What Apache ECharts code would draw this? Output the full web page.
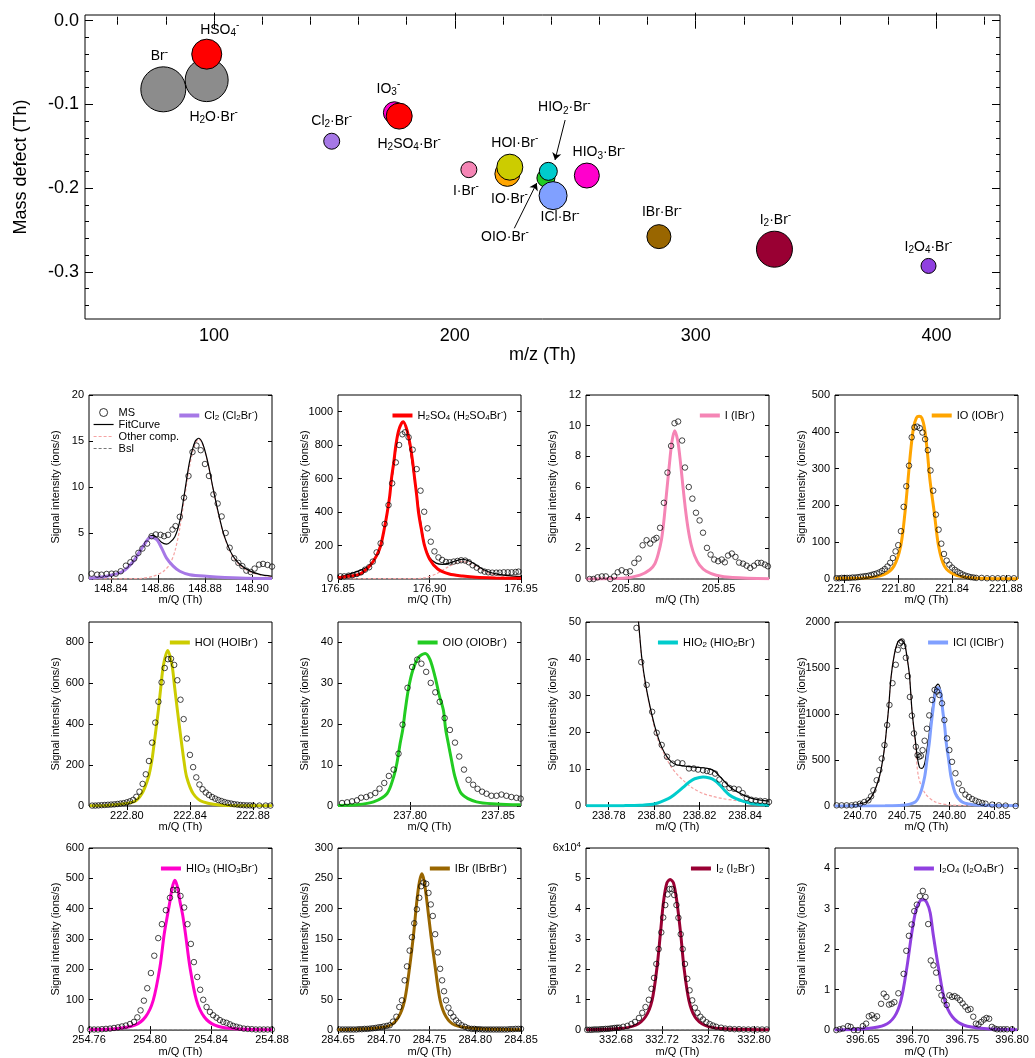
<!DOCTYPE html>
<html>
<head>
<meta charset="utf-8">
<script src="https://cdn.jsdelivr.net/npm/echarts@6/dist/echarts.min.js"></script>
<style>
html, body { margin: 0; padding: 0; background: #fff; }
#chart { width: 1035px; height: 1058px; }
</style>
</head>
<body>
<div id="chart"></div>
<script>
// ---------- top panel: mass defect plot ----------
var ionLabels = ['Br{u|-}', 'H{s|2}O\u00b7Br{u|-}', 'HSO{s|4}{u|-}', 'IO{s|3}{u|-}', 'H{s|2}SO{s|4}\u00b7Br{u|-}',
    'Cl{s|2}\u00b7Br{u|-}', 'I\u00b7Br{u|-}', 'IO\u00b7Br{u|-}', 'HOI\u00b7Br{u|-}', 'OIO\u00b7Br{u|-}',
    'ICl\u00b7Br{u|-}', 'HIO{s|2}\u00b7Br{u|-}', 'HIO{s|3}\u00b7Br{u|-}', 'IBr\u00b7Br{u|-}', 'I{s|2}\u00b7Br{u|-}',
    'I{s|2}O{s|4}\u00b7Br{u|-}'];
var mzValues = [78.918, 96.929, 96.960, 174.890, 176.886, 148.856, 205.822, 221.817, 222.825, 237.812,
    240.791, 238.820, 254.815, 284.742, 332.727, 396.707];
var massDefect = [-0.082, -0.071, -0.040, -0.110, -0.114, -0.144, -0.178, -0.183, -0.175, -0.188,
    -0.209, -0.180, -0.185, -0.258, -0.273, -0.293];
var bubbleSize = [45, 43, 30, 22, 26, 16, 16, 25, 26, 18, 28, 18, 25, 24, 36, 15];
var mzMajor = [100, 200, 300, 400];
var mzMinor = [60, 80, 120, 140, 160, 180, 220, 240, 260, 280, 320, 340, 360, 380, 420];
var mdMajor = [0, -0.1, -0.2, -0.3];
var mdMinor = [-0.34, -0.32, -0.28, -0.26, -0.24, -0.22, -0.18, -0.16, -0.14, -0.12, -0.08, -0.06, -0.04, -0.02];
// arrows from the OIO and HIO2 labels (data units)
var arrowPairs = [[[224.7, -0.248], [234.0, -0.194]], [[245.8, -0.1187], [241.6, -0.1664]]];

// styles for the bubbles
var ionColors = ['#8c8c8c', '#8c8c8c', '#ff0000', '#ff00cc', '#ff0000', '#a678e6', '#f585b5', '#ffa500',
    '#cccc00', '#22cc22', '#80a0ff', '#00cccc', '#ff00cc', '#996600', '#990033', '#9040e0'];
var labelOffsets = [[-4, -33], [7, 37], [13, -24], [-6, -24], [10, 28], [0, -20], [-3, 21], [2, 25], [5, -24],
    [-41, 59], [7, 22], [16, -64], [12, -23], [3, -24], [1, -29], [0, -19]];

// ---------- small panels ----------
// Cl2
var cl2MS = [[148.8318,0.58],[148.8342,0.47],[148.8360,0.47],[148.8382,0.55],[148.8403,0.58],[148.8421,0.58],[148.8442,0.84],[148.8464,1.45],[148.8483,1.82],[148.8499,2.22],[148.8517,2.84],[148.8534,3.31],[148.8554,3.85],[148.8573,4.65],[148.8591,4.84],[148.8611,4.80],[148.8626,4.65],[148.8643,4.80],[148.8662,5.38],[148.8675,5.75],[148.8693,6.76],[148.8711,8.84],[148.8730,11.2],[148.8747,13.8],[148.8764,14.5],[148.8782,14.0],[148.8800,12.5],[148.8817,11.2],[148.8836,9.2],[148.8854,8.2],[148.8871,6.8],[148.8888,5.0],[148.8905,3.4],[148.8924,2.25],[148.8942,1.75],[148.8959,1.4],[148.8976,0.91],[148.8994,0.76],[148.9011,1.13],[148.9030,1.56],[148.9047,1.64],[148.9066,1.53],[148.9085,1.35]];
var cl2Comp = [[148.8307,0.08],[148.8382,0.3],[148.8452,0.84],[148.8495,1.9],[148.8523,3.0],[148.8551,4.1],[148.8568,4.55],[148.8594,4.3],[148.8615,3.4],[148.8636,2.3],[148.8665,1.4],[148.8693,0.84],[148.8735,0.47],[148.8806,0.3],[148.8948,0.1],[148.9085,0.05]];
var cl2Other = [[148.8307,0],[148.8523,0.05],[148.8580,0.3],[148.8622,0.8],[148.8650,1.6],[148.8672,3.0],[148.8693,5.5],[148.8714,9.0],[148.8735,12.3],[148.8757,14.6],[148.8774,15.2],[148.8792,14.5],[148.8813,12.5],[148.8834,9.8],[148.8856,7.2],[148.8877,5.0],[148.8898,3.5],[148.8919,2.4],[148.8948,1.5],[148.8990,0.8],[148.9033,0.45],[148.9085,0.25]];
var cl2Fit = [[148.8307,0.08],[148.8382,0.3],[148.8452,0.86],[148.8495,1.93],[148.8523,3.05],[148.8551,4.2],[148.8568,4.7],[148.8580,4.75],[148.8594,4.55],[148.8615,4.0],[148.8636,3.8],[148.8650,3.95],[148.8672,4.6],[148.8693,6.3],[148.8714,9.5],[148.8735,12.8],[148.8757,14.9],[148.8774,15.3],[148.8792,14.6],[148.8813,12.6],[148.8834,9.9],[148.8856,7.3],[148.8877,5.1],[148.8898,3.6],[148.8919,2.5],[148.8948,1.6],[148.8990,0.88],[148.9033,0.5],[148.9085,0.3]];
var cl2XTicks = [148.84, 148.86, 148.88, 148.90];
var cl2YTicks = [0, 5, 10, 15, 20];

// H2SO4
var h2so4MS = [[176.8513,16],[176.8534,16],[176.8558,20],[176.8581,24],[176.8603,30],[176.8626,40],[176.8648,56],[176.8670,70],[176.8690,104],[176.8711,159],[176.8733,213],[176.8755,329],[176.8776,442],[176.8796,572],[176.8816,697],[176.8834,801],[176.8852,865],[176.8866,877],[176.8886,847],[176.8908,773],[176.8930,657],[176.8951,528],[176.8971,402],[176.8989,303],[176.9007,223],[176.9027,165],[176.9049,129],[176.9069,114],[176.9090,102],[176.9110,100],[176.9132,104],[176.9153,108],[176.9173,112],[176.9195,110],[176.9215,100],[176.9236,82],[176.9258,68],[176.9280,52],[176.9301,44],[176.9321,40],[176.9343,38],[176.9365,38],[176.9384,38],[176.9406,40],[176.9428,40],[176.9449,40],[176.9471,42],[176.9487,44]];
var h2so4Comp = [[176.85,8],[176.8567,18],[176.8621,30],[176.8675,80],[176.8711,140],[176.8733,199],[176.8753,300],[176.8769,398],[176.8783,500],[176.8792,598],[176.8805,700],[176.8816,797],[176.8832,890],[176.8856,940],[176.8877,890],[176.8895,797],[176.8908,700],[176.8919,598],[176.8930,500],[176.8940,398],[176.8955,300],[176.8973,199],[176.9000,120],[176.9045,60],[176.9108,30],[176.9181,18],[176.9253,10],[176.9361,6],[176.95,4]];
var h2so4Other = [[176.85,2],[176.8874,2],[176.8964,5],[176.9036,30],[176.9090,65],[176.9144,95],[176.9181,105],[176.9217,95],[176.9253,75],[176.9289,52],[176.9325,35],[176.9379,20],[176.9433,12],[176.95,8]];
var h2so4Fit = [[176.85,10],[176.8675,82],[176.8733,201],[176.8783,502],[176.8832,892],[176.8856,942],[176.8877,892],[176.8930,503],[176.8973,205],[176.9000,130],[176.9036,95],[176.9072,88],[176.9108,95],[176.9144,108],[176.9181,118],[176.9217,108],[176.9253,85],[176.9289,60],[176.9325,42],[176.9379,28],[176.9433,20],[176.95,14]];
var h2so4XTicks = [176.85, 176.90, 176.95];
var h2so4YTicks = [0, 200, 400, 600, 800, 1000];

// I
var iMS = [[205.7785,0],[205.7807,0],[205.7829,0.11],[205.7853,0.17],[205.7875,0.17],[205.7899,0],[205.7921,0.17],[205.7941,0.44],[205.7963,0.57],[205.7987,0.44],[205.8009,0.5],[205.8033,1.05],[205.8057,1.33],[205.8079,2.2],[205.8101,2.53],[205.8121,2.31],[205.8142,2.57],[205.8156,2.68],[205.8176,3.34],[205.8197,4.97],[205.8217,6.94],[205.8237,8.68],[205.8256,10.16],[205.8276,10.27],[205.8298,9.03],[205.8314,7.27],[205.8335,6.0],[205.8355,5.24],[205.8375,4.32],[205.8395,3.82],[205.8414,3.02],[205.8436,2.03],[205.8456,1.59],[205.8476,1.27],[205.8498,1.16],[205.8518,1.27],[205.8535,1.09],[205.8553,1.53],[205.8574,1.66],[205.8594,1.44],[205.8614,1.07],[205.8636,1.0],[205.8656,0.87],[205.8676,0.72],[205.8697,0.87],[205.8717,1.05],[205.8737,1.05],[205.8757,0.94],[205.8774,0.83]];
var iComp = [[205.7765,0],[205.7972,0.05],[205.8064,0.25],[205.8119,0.6],[205.8147,1.0],[205.8165,1.6],[205.8184,2.6],[205.8197,3.8],[205.8211,5.5],[205.8226,7.3],[205.8241,8.9],[205.8257,9.67],[205.8274,9.0],[205.8289,7.6],[205.8303,6.0],[205.8316,4.6],[205.8331,3.3],[205.8349,2.2],[205.8368,1.5],[205.8395,0.9],[205.8432,0.5],[205.8487,0.25],[205.8579,0.1],[205.8781,0.02]];
var iXTicks = [205.80, 205.85];
var iYTicks = [0, 2, 4, 6, 8, 10, 12];

// IO
var ioMS = [[221.754,2],[221.756,2],[221.758,3],[221.760,3],[221.762,3],[221.764,3],[221.766,4],[221.768,4],[221.770,5],[221.772,6],[221.774,7],[221.776,8],[221.778,9],[221.780,11],[221.782,13],[221.784,15],[221.786,18],[221.788,22],[221.790,27],[221.792,34],[221.794,44],[221.796,57],[221.798,75],[221.800,92],[221.802,130],[221.804,196],[221.806,252],[221.808,308],[221.810,385],[221.812,412],[221.814,414],[221.816,410],[221.818,398],[221.820,380],[221.822,350],[221.824,295],[221.826,240],[221.828,175],[221.830,134],[221.832,96],[221.834,68],[221.836,50],[221.838,39],[221.840,31],[221.842,25],[221.844,20],[221.846,16],[221.848,12],[221.850,9],[221.852,7],[221.854,5],[221.856,4],[221.858,3],[221.862,3],[221.866,2],[221.870,2],[221.874,2],[221.878,2],[221.882,2],[221.886,2]];
var ioComp = [[221.753,2],[221.7755,3],[221.7893,12],[221.7968,35],[221.8018,89],[221.8050,180],[221.8073,271],[221.8093,350],[221.8113,410],[221.8135,438],[221.8155,442],[221.8175,438],[221.8195,410],[221.8215,350],[221.8235,271],[221.8268,180],[221.8300,89],[221.8343,35],[221.8418,12],[221.8555,3],[221.8890,1]];
var ioXTicks = [221.76, 221.80, 221.84, 221.88];
var ioYTicks = [0, 100, 200, 300, 400, 500];

// HOI
var hoiMS = [[222.778,2],[222.780,2],[222.782,3],[222.784,4],[222.786,5],[222.788,6],[222.790,7],[222.792,8],[222.794,10],[222.796,12],[222.798,14],[222.800,18],[222.802,23],[222.804,30],[222.806,45],[222.808,70],[222.810,108],[222.812,155],[222.814,220],[222.816,310],[222.818,408],[222.820,510],[222.822,605],[222.824,675],[222.826,718],[222.828,720],[222.830,690],[222.832,615],[222.834,520],[222.836,425],[222.838,330],[222.840,250],[222.842,190],[222.844,140],[222.846,105],[222.848,82],[222.850,66],[222.852,54],[222.854,44],[222.856,36],[222.858,29],[222.860,24],[222.862,19],[222.864,15],[222.866,12],[222.868,9],[222.870,7],[222.872,5],[222.874,4],[222.876,3],[222.878,3],[222.880,2],[222.884,2],[222.888,2],[222.891,2]];
var hoiComp = [[222.7764,1],[222.7874,3],[222.8042,20],[222.8095,60],[222.8137,142],[222.8158,220],[222.8173,306],[222.8187,390],[222.8200,470],[222.8215,580],[222.8232,690],[222.8259,761],[222.8286,690],[222.8303,580],[222.8320,470],[222.8333,390],[222.8347,306],[222.8362,220],[222.8379,142],[222.8421,60],[222.8484,20],[222.8632,3],[222.8920,1]];
var hoiXTicks = [222.80, 222.84, 222.88];
var hoiYTicks = [0, 200, 400, 600, 800];

// OIO
var oioMS = [[237.7613,0.73],[237.7642,0.9],[237.7670,1.14],[237.7698,1.39],[237.7721,2.04],[237.7751,2.2],[237.7774,2.61],[237.7802,3.18],[237.7826,4.24],[237.7853,5.63],[237.7879,7.35],[237.7906,8.9],[237.7934,12.8],[237.7957,19.9],[237.7985,28.9],[237.8011,34.0],[237.8040,35.8],[237.8064,34.8],[237.8091,32.8],[237.8117,30.1],[237.8143,27.8],[237.8168,25.5],[237.8196,21.5],[237.8226,18.6],[237.8255,15.5],[237.8279,12.1],[237.8306,8.9],[237.8332,6.4],[237.8358,5.2],[237.8383,4.2],[237.8409,3.5],[237.8434,3.0],[237.8462,2.5],[237.8491,2.5],[237.8519,2.8],[237.8547,2.5],[237.8575,2.2],[237.8604,2.0],[237.8628,1.8]];
var oioComp = [[237.759,0.15],[237.7698,0.3],[237.7792,1.0],[237.7868,3.0],[237.7906,7.1],[237.7925,10.5],[237.7943,15.3],[237.7958,18.7],[237.7972,23.4],[237.7991,28.8],[237.8015,33.2],[237.8047,36.3],[237.8085,37.3],[237.8113,35.8],[237.8142,31.5],[237.8166,27.0],[237.8189,23.4],[237.8202,18.7],[237.8217,15.3],[237.8236,11.0],[237.8255,7.1],[237.8292,3.0],[237.8377,1.0],[237.8491,0.5],[237.8628,0.3]];
var oioXTicks = [237.80, 237.85];
var oioYTicks = [0, 10, 20, 30, 40];

// HIO2
var hio2MS = [[238.7922,48.4],[238.7943,39.1],[238.7967,32.9],[238.7991,25.6],[238.8011,19.9],[238.8033,16.6],[238.8056,13.4],[238.8081,11.5],[238.8103,11.8],[238.8124,11.6],[238.8153,10.2],[238.8174,10.2],[238.8193,9.9],[238.8215,9.7],[238.8232,9.5],[238.8247,9.3],[238.8268,8.8],[238.8287,7.2],[238.8311,5.9],[238.8331,4.9],[238.8351,4.7],[238.8372,4.5],[238.8389,3.5],[238.8407,2.2],[238.8427,1.7],[238.8447,1.5],[238.8466,1.4],[238.8487,1.3],[238.8505,1.1]];
var hio2Comp = [[238.7701,0.05],[238.7865,0.1],[238.7938,0.2],[238.8004,0.6],[238.8062,2.0],[238.8091,3.2],[238.8113,4.3],[238.8135,5.5],[238.8156,6.6],[238.8178,7.4],[238.8215,7.9],[238.8244,7.6],[238.8265,7.0],[238.8287,5.8],[238.8309,4.3],[238.8331,3.0],[238.8360,2.0],[238.8396,1.2],[238.8433,0.6],[238.8505,0.2]];
var hio2Other = [[238.7916,60],[238.7931,50],[238.7945,40],[238.7964,32],[238.7989,24.5],[238.8011,19],[238.8033,15.5],[238.8055,12.8],[238.8076,10.5],[238.8098,8.8],[238.8127,7.0],[238.8171,4.8],[238.8215,3.4],[238.8258,2.6],[238.8302,2.0],[238.8345,1.6],[238.8404,1.1],[238.8505,0.7]];
var hio2Fit = [[238.7916,58],[238.7931,50],[238.7945,40.5],[238.7964,32.5],[238.7989,25],[238.8011,19.8],[238.8033,16],[238.8055,13.5],[238.8076,12],[238.8098,11.2],[238.8127,10.9],[238.8156,10.7],[238.8185,10.5],[238.8215,10.4],[238.8244,10.1],[238.8265,9.5],[238.8287,8.1],[238.8309,6.7],[238.8331,5.3],[238.8360,4.0],[238.8396,2.9],[238.8433,2.0],[238.8469,1.6],[238.8505,1.3]];
var hio2XTicks = [238.78, 238.80, 238.82, 238.84];
var hio2YTicks = [0, 10, 20, 30, 40, 50];

// ICl
var iclMS = [[240.6738,7],[240.6794,7],[240.6850,7],[240.6906,7],[240.6951,15],[240.7000,25],[240.7049,44],[240.7094,62],[240.7124,105],[240.7150,171],[240.7187,280],[240.7217,390],[240.7244,516],[240.7274,662],[240.7304,880],[240.7330,1098],[240.7364,1335],[240.7401,1535],[240.7424,1698],[240.7450,1770],[240.7469,1789],[240.7487,1738],[240.7514,1611],[240.7536,1411],[240.7559,1185],[240.7581,982],[240.7604,789],[240.7626,644],[240.7645,553],[240.7664,535],[240.7682,545],[240.7701,607],[240.7724,709],[240.7750,840],[240.7776,985],[240.7806,1153],[240.7836,1262],[240.7862,1244],[240.7889,1207],[240.7919,1116],[240.7945,934],[240.7975,735],[240.8001,608],[240.8031,480],[240.8069,356],[240.8106,244],[240.8144,172],[240.8181,124],[240.8219,98],[240.8256,76],[240.8294,58],[240.8331,44],[240.8369,33],[240.8406,25],[240.8481,15],[240.8556,7],[240.8631,4],[240.8744,0]];
var iclComp = [[240.6719,0],[240.7281,2],[240.7469,7],[240.7619,44],[240.7675,135],[240.7724,316],[240.7750,498],[240.7776,680],[240.7795,862],[240.7817,1044],[240.7844,1230],[240.7874,1287],[240.7904,1230],[240.7926,1044],[240.7949,862],[240.7967,680],[240.7994,498],[240.8020,316],[240.8069,135],[240.8144,44],[240.8256,15],[240.8406,7],[240.8770,2]];
var iclOther = [[240.6719,2],[240.6906,8],[240.7075,44],[240.7150,135],[240.7217,316],[240.7255,500],[240.7281,680],[240.7300,860],[240.7319,1044],[240.7349,1407],[240.7386,1650],[240.7424,1780],[240.7461,1807],[240.7499,1760],[240.7529,1600],[240.7555,1407],[240.7581,1044],[240.7600,860],[240.7619,680],[240.7656,316],[240.7731,135],[240.7844,44],[240.8031,10],[240.8406,3],[240.8770,1]];
var iclFit = [[240.6719,2],[240.6906,10],[240.7075,46],[240.7150,137],[240.7217,318],[240.7255,502],[240.7281,683],[240.7300,863],[240.7319,1046],[240.7349,1410],[240.7386,1653],[240.7424,1783],[240.7461,1810],[240.7499,1763],[240.7529,1604],[240.7555,1412],[240.7581,1054],[240.7600,875],[240.7619,724],[240.7641,540],[240.7667,420],[240.7694,410],[240.7724,460],[240.7750,615],[240.7776,790],[240.7795,960],[240.7817,1110],[240.7844,1290],[240.7874,1325],[240.7904,1255],[240.7926,1065],[240.7949,878],[240.7967,693],[240.7994,510],[240.8020,325],[240.8069,143],[240.8144,49],[240.8256,18],[240.8406,10],[240.8770,3]];
var iclXTicks = [240.70, 240.75, 240.80, 240.85];
var iclYTicks = [0, 500, 1000, 1500, 2000];

// HIO3
var hio3MS = [[254.7607,2],[254.7633,2],[254.7659,2],[254.7685,3],[254.7711,4],[254.7738,5],[254.7764,7],[254.7790,9],[254.7816,12],[254.7842,15],[254.7869,20],[254.7895,27],[254.7917,42],[254.7938,65],[254.7960,97],[254.7982,138],[254.8006,188],[254.8028,245],[254.8054,303],[254.8078,349],[254.8104,395],[254.8131,436],[254.8152,462],[254.8176,462],[254.8200,442],[254.8224,404],[254.8246,349],[254.8268,284],[254.8288,224],[254.8310,175],[254.8329,133],[254.8349,100],[254.8371,76],[254.8393,60],[254.8414,49],[254.8436,41],[254.8458,33],[254.8480,27],[254.8502,24],[254.8524,19],[254.8545,14],[254.8567,11],[254.8589,8],[254.8615,5],[254.8641,4],[254.8668,3],[254.8694,2],[254.8720,2],[254.8746,2],[254.8772,2],[254.8799,2]];
var hio3Comp = [[254.76,1],[254.7792,5],[254.7901,16],[254.7971,44],[254.8021,98],[254.8065,207],[254.8093,316],[254.8115,380],[254.8131,425],[254.8146,470],[254.8163,494],[254.8181,470],[254.8196,425],[254.8214,380],[254.8233,316],[254.8262,207],[254.8305,98],[254.8355,44],[254.8425,16],[254.8534,5],[254.88,1]];
var hio3XTicks = [254.76, 254.80, 254.84, 254.88];
var hio3YTicks = [0, 100, 200, 300, 400, 500, 600];

// IBr
var ibrMS = [[284.652,1],[284.655,1],[284.658,1],[284.661,1],[284.664,1],[284.667,1],[284.670,1],[284.673,1.5],[284.676,1.5],[284.679,2],[284.682,2],[284.685,2.5],[284.688,3],[284.691,3.5],[284.694,4.5],[284.697,5],[284.700,6],[284.7035,7],[284.7065,8],[284.7101,14],[284.7138,22],[284.7170,38],[284.7199,49],[284.7228,82],[284.7254,105],[284.7283,131],[284.7308,153],[284.7333,176],[284.7362,199],[284.7388,218],[284.7409,237],[284.7435,243],[284.7464,241],[284.7489,226],[284.7514,207],[284.7536,188],[284.7562,158],[284.7591,128],[284.7616,101],[284.7638,82],[284.7659,64],[284.7681,49],[284.7707,37],[284.7732,28],[284.7761,22],[284.7790,16],[284.7819,12],[284.7851,8],[284.7888,5.5],[284.7924,3],[284.796,2],[284.799,2],[284.802,1.5],[284.805,1.5],[284.808,1],[284.811,1],[284.814,1],[284.817,1],[284.820,1],[284.823,1],[284.826,1],[284.829,1],[284.832,1],[284.835,1],[284.838,1.5],[284.841,1.5],[284.844,2],[284.847,2],[284.850,2]];
var ibrComp = [[284.6493,0.5],[284.6891,3],[284.7072,8],[284.7163,22],[284.7228,49],[284.7283,104],[284.7326,158],[284.7362,213],[284.7391,245],[284.7417,257.5],[284.7442,245],[284.7471,213],[284.7514,158],[284.7562,104],[284.7616,49],[284.7681,22],[284.7779,8],[284.7978,3],[284.8496,0.5]];
var ibrXTicks = [284.65, 284.70, 284.75, 284.80, 284.85];
var ibrYTicks = [0, 50, 100, 150, 200, 250, 300];

// I2
var i2MS = [[332.655,100],[332.657,100],[332.659,100],[332.661,200],[332.663,200],[332.665,200],[332.667,300],[332.669,300],[332.671,400],[332.673,400],[332.675,500],[332.677,600],[332.679,700],[332.681,800],[332.6829,800],[332.6863,1100],[332.6900,1400],[332.6934,2000],[332.6966,2700],[332.7000,4000],[332.7029,5700],[332.7057,7600],[332.7086,10000],[332.7109,13600],[332.7131,17200],[332.7151,21800],[332.7171,26700],[332.7194,32200],[332.7211,37100],[332.7229,41200],[332.7249,44700],[332.7266,46500],[332.7286,46500],[332.7306,44500],[332.7326,41200],[332.7343,37000],[332.7363,31600],[332.7380,26700],[332.7400,21800],[332.7420,16900],[332.7440,13100],[332.7463,9800],[332.7486,7400],[332.7509,5700],[332.7534,4400],[332.7557,3500],[332.7586,2600],[332.7614,2000],[332.7643,1500],[332.7671,1100],[332.7714,800],[332.775,500],[332.779,400],[332.783,300],[332.787,300],[332.791,200],[332.795,200],[332.799,200],[332.803,200],[332.807,200],[332.811,200]];
var i2Comp = [[332.6543,100],[332.6829,500],[332.6971,1600],[332.7057,4400],[332.7114,9800],[332.7157,20700],[332.7186,31600],[332.7214,42500],[332.7243,48500],[332.7271,49600],[332.7300,48500],[332.7329,42500],[332.7363,31600],[332.7391,20700],[332.7434,9800],[332.7486,4400],[332.7571,1600],[332.7714,500],[332.8129,100]];
var i2XTicks = [332.68, 332.72, 332.76, 332.80];
var i2YTicks = [0, 10000, 20000, 30000, 40000, 50000, 60000];

// I2O4
var i2o4MS = [[396.6233,0],[396.6267,0.02],[396.6300,0.04],[396.6350,0.1],[396.6377,0.08],[396.6410,0],[396.6450,0],[396.6500,0.1],[396.6533,0.16],[396.6560,0.34],[396.6590,0.37],[396.6617,0.29],[396.6643,0.34],[396.6683,0.65],[396.6710,0.9],[396.6737,0.82],[396.6763,0.63],[396.6790,0.65],[396.6817,0.69],[396.6857,0.91],[396.6910,1.39],[396.6937,1.96],[396.6963,2.33],[396.6990,2.61],[396.7017,2.94],[396.7043,3.1],[396.7073,3.31],[396.7103,3.44],[396.7130,3.29],[396.7157,2.62],[396.7183,1.72],[396.7210,1.6],[396.7237,1.42],[396.7263,1.04],[396.7290,0.86],[396.7317,0.73],[396.7343,0.62],[396.7370,0.86],[396.7397,0.82],[396.7423,0.84],[396.7450,0.8],[396.7477,0.74],[396.7503,0.66],[396.7530,0.58],[396.7557,0.5],[396.7583,0.52],[396.7610,0.33],[396.7637,0.16],[396.7663,0.14],[396.7690,0.2],[396.7717,0.26],[396.7743,0.3],[396.7770,0.28],[396.7797,0.08],[396.7823,0.04],[396.7850,0.02],[396.7883,0.02],[396.7917,0.02],[396.7950,0.02],[396.8000,0.02]];
var i2o4Comp = [[396.6217,0],[396.6550,0.04],[396.6717,0.12],[396.6817,0.33],[396.6883,0.73],[396.6943,1.55],[396.6990,2.37],[396.7033,2.95],[396.7077,3.2],[396.7110,3.22],[396.7143,3.15],[396.7177,2.9],[396.7207,2.37],[396.7260,1.55],[396.7323,0.73],[396.7400,0.33],[396.7517,0.12],[396.7717,0.04],[396.8050,0.01]];
var i2o4XTicks = [396.65, 396.70, 396.75, 396.80];
var i2o4YTicks = [0, 1, 2, 3, 4];

var baselineLevel = [0, 0, 0, 0, 0, 0, 0, 0, 0, 0, 0, 0];

var compNames = ['Cl2 (Cl2Br-)', 'H2SO4 (H2SO4Br-)', 'I (IBr-)', 'IO (IOBr-)', 'HOI (HOIBr-)', 'OIO (OIOBr-)',
    'HIO2 (HIO2Br-)', 'ICl (IClBr-)', 'HIO3 (HIO3Br-)', 'IBr (IBrBr-)', 'I2 (I2Br-)', 'I2O4 (I2O4Br-)'];
var compLabels = ['Cl{s|2} (Cl{s|2}Br{u|-})', 'H{s|2}SO{s|4} (H{s|2}SO{s|4}Br{u|-})', 'I (IBr{u|-})',
    'IO (IOBr{u|-})', 'HOI (HOIBr{u|-})', 'OIO (OIOBr{u|-})', 'HIO{s|2} (HIO{s|2}Br{u|-})', 'ICl (IClBr{u|-})',
    'HIO{s|3} (HIO{s|3}Br{u|-})', 'IBr (IBrBr{u|-})', 'I{s|2} (I{s|2}Br{u|-})', 'I{s|2}O{s|4} (I{s|2}O{s|4}Br{u|-})'];

// ---------- layout / style ----------
var FONT = "'Liberation Sans', Arial, Helvetica, sans-serif";
var panels = [
    { ms: cl2MS, comp: cl2Comp, other: cl2Other, fit: cl2Fit, xr: [148.8307, 148.9085], yr: [0, 20], xt: cl2XTicks, yt: cl2YTicks, color: '#a678e6' },
    { ms: h2so4MS, comp: h2so4Comp, other: h2so4Other, fit: h2so4Fit, xr: [176.85, 176.95], yr: [0, 1100], xt: h2so4XTicks, yt: h2so4YTicks, color: '#ff0000' },
    { ms: iMS, comp: iComp, xr: [205.7765, 205.878], yr: [0, 12], xt: iXTicks, yt: iYTicks, color: '#f585b5' },
    { ms: ioMS, comp: ioComp, xr: [221.753, 221.889], yr: [0, 500], xt: ioXTicks, yt: ioYTicks, color: '#ffa500' },
    { ms: hoiMS, comp: hoiComp, xr: [222.776, 222.892], yr: [0, 900], xt: hoiXTicks, yt: hoiYTicks, color: '#cccc00' },
    { ms: oioMS, comp: oioComp, xr: [237.759, 237.863], yr: [0, 45], xt: oioXTicks, yt: oioYTicks, color: '#22cc22' },
    { ms: hio2MS, comp: hio2Comp, other: hio2Other, fit: hio2Fit, xr: [238.770, 238.8505], yr: [0, 50], xt: hio2XTicks, yt: hio2YTicks, color: '#00cccc' },
    { ms: iclMS, comp: iclComp, other: iclOther, fit: iclFit, xr: [240.672, 240.877], yr: [0, 2000], xt: iclXTicks, yt: iclYTicks, color: '#80a0ff' },
    { ms: hio3MS, comp: hio3Comp, xr: [254.76, 254.88], yr: [0, 600], xt: hio3XTicks, yt: hio3YTicks, color: '#ff00cc' },
    { ms: ibrMS, comp: ibrComp, xr: [284.65, 284.85], yr: [0, 300], xt: ibrXTicks, yt: ibrYTicks, color: '#996600' },
    { ms: i2MS, comp: i2Comp, xr: [332.654, 332.813], yr: [0, 60000], xt: i2XTicks, yt: i2YTicks, color: '#990033', sci: true },
    { ms: i2o4MS, comp: i2o4Comp, xr: [396.622, 396.806], yr: [0, 4.5], xt: i2o4XTicks, yt: i2o4YTicks, color: '#9040e0' }
];
var cellLeft = [89, 338, 586, 835];
var cellTop = [395, 622, 848];
var cellW = 183, cellH = 184;
var NOSYM = { color: 'rgba(0,0,0,0)', borderColor: 'rgba(0,0,0,0)', borderWidth: 0 };

var richBig = {
    s: { fontSize: 10, fontFamily: FONT, padding: [7, 0, 0, 0] },
    u: { fontSize: 10, fontFamily: FONT, padding: [0, 0, 9, 0] }
};
var richSmall = {
    s: { fontSize: 8, fontFamily: FONT, padding: [5, 0, 0, 0] },
    u: { fontSize: 8, fontFamily: FONT, padding: [0, 0, 7, 0] }
};

var option = {
    animation: false,
    backgroundColor: '#fff',
    textStyle: { fontFamily: FONT, color: '#000' },
    tooltip: { show: false },
    grid: [], xAxis: [], yAxis: [], legend: [], series: []
};

function tickAxis(gi, pos, range, ticks, len, label) {
    return {
        gridIndex: gi, type: 'value', position: pos, min: range[0], max: range[1],
        axisLine: { show: false },
        splitLine: { show: false },
        axisTick: { show: true, inside: true, length: len, customValues: ticks, lineStyle: { color: '#000', width: 1 } },
        axisLabel: label ? Object.assign({ show: true, customValues: ticks, color: '#000', fontFamily: FONT }, label) : { show: false }
    };
}

// top grid
var topX = [46.4, 426.4], topY = [-0.3564, 0.0068];
option.grid.push({ left: 85, top: 15, width: 915, height: 304, show: true, borderColor: '#000', borderWidth: 1, backgroundColor: 'rgba(0,0,0,0)' });
var fmt1 = function (v) { return v.toFixed(1); };
var xMain = tickAxis(0, 'bottom', topX, mzMajor, 8, { fontSize: 18, margin: 8 });
xMain.name = 'm/z (Th)';
xMain.nameLocation = 'middle';
xMain.nameGap = 24;
xMain.nameTextStyle = { fontSize: 18, fontFamily: FONT, color: '#000' };
option.xAxis.push(xMain);
option.xAxis.push(tickAxis(0, 'bottom', topX, mzMinor, 4));
option.xAxis.push(tickAxis(0, 'top', topX, mzMajor, 8));
option.xAxis.push(tickAxis(0, 'top', topX, mzMinor, 4));
var yMain = tickAxis(0, 'left', topY, mdMajor, 8, { fontSize: 18, margin: 6, formatter: fmt1 });
yMain.name = 'Mass defect (Th)';
yMain.nameLocation = 'middle';
yMain.nameGap = 55;
yMain.nameMoveOverlap = false;
yMain.nameTextStyle = { fontSize: 18, fontFamily: FONT, color: '#000' };
option.yAxis.push(yMain);
option.yAxis.push(tickAxis(0, 'left', topY, mdMinor, 4));
option.yAxis.push(tickAxis(0, 'right', topY, mdMajor, 8));
option.yAxis.push(tickAxis(0, 'right', topY, mdMinor, 4));

var bubbleData = mzValues.map(function (m, i) {
    return {
        value: [m, massDefect[i], bubbleSize[i]],
        itemStyle: { color: ionColors[i] },
        label: { offset: labelOffsets[i] }
    };
});
option.series.push({
    type: 'scatter', xAxisIndex: 0, yAxisIndex: 0, name: 'ions', silent: true,
    symbolSize: function (v) { return v[2]; },
    itemStyle: { borderColor: '#000', borderWidth: 1, opacity: 1 },
    label: {
        show: true, position: 'inside', color: '#000', fontSize: 14, fontFamily: FONT,
        formatter: function (p) { return ionLabels[p.dataIndex]; },
        rich: richBig
    },
    data: bubbleData,
    markLine: {
        silent: true, symbol: ['none', 'arrow'], symbolSize: 7,
        lineStyle: { color: '#000', width: 1, type: 'solid' },
        label: { show: false },
        data: arrowPairs.map(function (a) { return [{ coord: a[0] }, { coord: a[1] }]; })
    }
});

// small panels
panels.forEach(function (p, k) {
    var col = k % 4, row = Math.floor(k / 4);
    var left = cellLeft[col], top = cellTop[row];
    var gi = option.grid.length;
    option.grid.push({ left: left, top: top, width: cellW, height: cellH, show: true, borderColor: '#000', borderWidth: 1, backgroundColor: 'rgba(0,0,0,0)' });
    var xi = option.xAxis.length, yi = option.yAxis.length;
    var xa = tickAxis(gi, 'bottom', p.xr, p.xt, 4, { fontSize: 11, margin: 4, formatter: function (v) { return v.toFixed(2); } });
    xa.name = 'm/Q (Th)';
    xa.nameLocation = 'middle';
    xa.nameGap = 15;
    xa.nameTextStyle = { fontSize: 11, fontFamily: FONT, color: '#000' };
    option.xAxis.push(xa);
    option.xAxis.push(tickAxis(gi, 'top', p.xr, p.xt, 4));
    var yfmt = p.sci ? function (v) { return v === 60000 ? '6x10{u|4}' : String(v / 10000); } : function (v) { return String(v); };
    var ya = tickAxis(gi, 'left', p.yr, p.yt, 4, { fontSize: 11, margin: 5, formatter: yfmt, rich: richSmall });
    ya.name = 'Signal intensity (ions/s)';
    ya.nameLocation = 'middle';
    ya.nameGap = 28;
    ya.nameMoveOverlap = false;
    ya.nameTextStyle = { fontSize: 11, fontFamily: FONT, color: '#000' };
    option.yAxis.push(ya);
    option.yAxis.push(tickAxis(gi, 'right', p.yr, p.yt, 4));

    option.series.push({
        type: 'line', name: 'Bsl', xAxisIndex: xi, yAxisIndex: yi, silent: true, symbol: 'none',
        data: [[p.xr[0], baselineLevel[k]], [p.xr[1], baselineLevel[k]]],
        lineStyle: { color: '#777', width: 1, type: [3, 2] }, itemStyle: { color: '#777' }
    });
    if (p.other) {
        option.series.push({
            type: 'line', name: 'Other comp.', xAxisIndex: xi, yAxisIndex: yi, silent: true, symbol: 'none', smooth: 0.3,
            data: p.other, lineStyle: { color: '#f5a3a3', width: 1.2, type: [3, 2] }, itemStyle: { color: '#f5a3a3' }
        });
    }
    if (p.fit) {
        option.series.push({
            type: 'line', name: 'FitCurve', xAxisIndex: xi, yAxisIndex: yi, silent: true, symbol: 'none', smooth: 0.3,
            data: p.fit, lineStyle: { color: '#000', width: 1.2 }, itemStyle: { color: '#000' }
        });
    }
    option.series.push({
        type: 'line', name: compNames[k], xAxisIndex: xi, yAxisIndex: yi, silent: true, symbol: 'none', smooth: 0.3,
        data: p.comp, lineStyle: { color: p.color, width: 3 }, itemStyle: { color: p.color }
    });
    option.series.push({
        type: 'scatter', name: 'MS', xAxisIndex: xi, yAxisIndex: yi, silent: true, symbol: 'circle', symbolSize: 5.5,
        data: p.ms, itemStyle: { color: 'rgba(0,0,0,0)', borderColor: '#000', borderWidth: 0.9 }, z: 5
    });

    option.legend.push({
        right: 1035 - (left + cellW - 9), top: top + 8,
        itemWidth: 20, itemHeight: 8, itemGap: 4, selectedMode: false,
        data: [{ name: compNames[k], itemStyle: NOSYM }],
        formatter: function (name) { return compLabels[compNames.indexOf(name)]; },
        lineStyle: { width: 4 },
        textStyle: { fontSize: 11, fontFamily: FONT, color: '#000', rich: richSmall }
    });
});

// legend with the fit elements (first panel)
option.legend.push({
    left: 88, top: 402, orient: 'vertical', itemWidth: 20, itemHeight: 8, itemGap: 1, selectedMode: false,
    data: [
        { name: 'MS', itemStyle: { color: 'rgba(0,0,0,0)', borderColor: '#000', borderWidth: 1 } },
        { name: 'FitCurve', itemStyle: NOSYM },
        { name: 'Other comp.', itemStyle: NOSYM },
        { name: 'Bsl', itemStyle: NOSYM }
    ],
    lineStyle: { width: 'inherit' },
    textStyle: { fontSize: 11, fontFamily: FONT, color: '#000' }
});

var myChart = echarts.init(document.getElementById('chart'));
myChart.setOption(option);
</script>
</body>
</html>
